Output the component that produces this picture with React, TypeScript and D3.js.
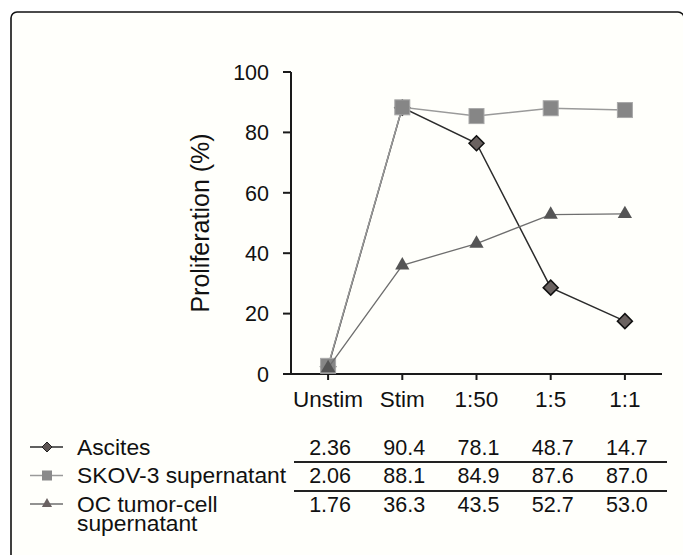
import React, { useEffect, useRef } from 'react'
import * as d3 from 'd3'

const categories = ['Unstim', 'Stim', '1:50', '1:5', '1:1']
const yTicks = [0, 20, 40, 60, 80, 100]

// plotted values
const ascitesPlot = [2.4, 88.2, 76.4, 28.6, 17.5]
const skovPlot = [2.7, 88.3, 85.4, 88.0, 87.4]
const ocPlot = [2.0, 36.0, 43.2, 52.8, 53.0]

// table values as printed
const seriesNames = ['Ascites', 'SKOV-3 supernatant', 'OC tumor-cell|supernatant']
const ascitesTable = ['2.36', '90.4', '78.1', '48.7', '14.7']
const skovTable = ['2.06', '88.1', '84.9', '87.6', '87.0']
const ocTable = ['1.76', '36.3', '43.5', '52.7', '53.0']

const W = 683
const H = 555
const FONT = '"Liberation Sans", Arial, Helvetica, sans-serif'

const diamondPath = (s) => `M0,${-s}L${s},0L0,${s}L${-s},0Z`

export default function App() {
  const svgRef = useRef(null)

  useEffect(() => {
    const svg = d3.select(svgRef.current)
    svg.selectAll('*').remove()

    const left = 291, right = 662, top = 72, bottom = 374
    const x = d3.scalePoint().domain(categories).range([left, right]).padding(0.5)
    const y = d3.scaleLinear().domain([0, 100]).range([bottom, top])

    // frame
    svg.append('rect')
      .attr('x', 11).attr('y', 12).attr('width', 673).attr('height', 580)
      .attr('rx', 6).attr('fill', '#fffffb').attr('stroke', '#111').attr('stroke-width', 1.6)

    // y axis
    const yAxis = svg.append('g')
    yAxis.append('line').attr('x1', left).attr('x2', left).attr('y1', top).attr('y2', bottom)
      .attr('stroke', '#1a1a1a').attr('stroke-width', 2)
    yTicks.forEach(t => {
      yAxis.append('line').attr('x1', left - 8).attr('x2', left).attr('y1', y(t)).attr('y2', y(t))
        .attr('stroke', '#1a1a1a').attr('stroke-width', 2)
      yAxis.append('text').attr('x', 269).attr('y', y(t)).attr('dy', '0.36em')
        .attr('text-anchor', 'end').attr('font-size', 21.5).attr('font-family', FONT).attr('fill', '#111')
        .text(t)
    })
    svg.append('text')
      .attr('transform', `translate(209,223) rotate(-90)`)
      .attr('text-anchor', 'middle').attr('font-size', 25).attr('font-family', FONT).attr('fill', '#111')
      .text('Proliferation (%)')

    // x axis
    const xAxis = svg.append('g')
    xAxis.append('line').attr('x1', left - 8).attr('x2', right).attr('y1', bottom).attr('y2', bottom)
      .attr('stroke', '#1a1a1a').attr('stroke-width', 2)
    categories.forEach(c => {
      xAxis.append('line').attr('x1', x(c)).attr('x2', x(c)).attr('y1', bottom).attr('y2', bottom + 6)
        .attr('stroke', '#1a1a1a').attr('stroke-width', 2)
      xAxis.append('text').attr('x', x(c)).attr('y', 407)
        .attr('text-anchor', 'middle').attr('font-size', 22.5).attr('font-family', FONT).attr('fill', '#111')
        .text(c)
    })

    const line = d3.line().x((d, i) => x(categories[i])).y(d => y(d))

    // Ascites (diamonds)
    svg.append('path').datum(ascitesPlot).attr('d', line)
      .attr('fill', 'none').attr('stroke', '#2b2b2b').attr('stroke-width', 1.5)
    svg.selectAll('.dia').data(ascitesPlot).enter().append('path')
      .attr('transform', (d, i) => `translate(${x(categories[i])},${y(d)})`)
      .attr('d', diamondPath(7.5))
      .attr('fill', '#6a6260').attr('stroke', '#111').attr('stroke-width', 1.5)

    // SKOV-3 (squares)
    svg.append('path').datum(skovPlot).attr('d', line)
      .attr('fill', 'none').attr('stroke', '#9a9a9a').attr('stroke-width', 1.5)
    svg.selectAll('.sq').data(skovPlot).enter().append('rect')
      .attr('x', (d, i) => x(categories[i]) - 7.5).attr('y', d => y(d) - 7.5)
      .attr('width', 15).attr('height', 15)
      .attr('fill', '#868686').attr('stroke', '#a8a8a8').attr('stroke-width', 1)

    // OC (triangles)
    const tri = d3.symbol().type(d3.symbolTriangle).size(88)
    svg.append('path').datum(ocPlot).attr('d', line)
      .attr('fill', 'none').attr('stroke', '#6e6e6e').attr('stroke-width', 1.3)
    svg.selectAll('.tri').data(ocPlot).enter().append('path')
      .attr('transform', (d, i) => `translate(${x(categories[i])},${y(d)})`)
      .attr('d', tri)
      .attr('fill', '#555555')

    // table
    const rows = [ascitesTable, skovTable, ocTable]
    const rowBase = [454.5, 483, 511.5]
    const lineColors = ['#2b2b2b', '#9a9a9a', '#6e6e6e']
    rows.forEach((r, ri) => {
      const ly = rowBase[ri] - 7.5
      svg.append('line').attr('x1', 30).attr('x2', 63).attr('y1', ly).attr('y2', ly)
        .attr('stroke', lineColors[ri]).attr('stroke-width', 1.5)
      if (ri === 0) {
        svg.append('path').attr('transform', `translate(47,${ly})`).attr('d', diamondPath(5))
          .attr('fill', '#5d5553').attr('stroke', '#222').attr('stroke-width', 1)
      } else if (ri === 1) {
        svg.append('rect').attr('x', 42).attr('y', ly - 5).attr('width', 10).attr('height', 10)
          .attr('fill', '#8a8a8a')
      } else {
        svg.append('path').attr('transform', `translate(47,${ly})`)
          .attr('d', d3.symbol().type(d3.symbolTriangle).size(45)).attr('fill', '#6a6262')
      }
      const nameLines = seriesNames[ri].split('|')
      nameLines.forEach((n, k) => {
        svg.append('text').attr('x', 77).attr('y', rowBase[ri] + k * 19.5)
          .attr('font-size', 22.8).attr('font-family', FONT).attr('fill', '#111')
          .text(n)
      })
      r.forEach((v, i) => {
        svg.append('text').attr('x', x(categories[i]) + 2).attr('y', rowBase[ri])
          .attr('text-anchor', 'middle').attr('font-size', 21.5).attr('font-family', FONT).attr('fill', '#111')
          .text(v)
      })
    })
    ;[462, 491].forEach(ly => {
      svg.append('line').attr('x1', 294).attr('x2', 667).attr('y1', ly).attr('y2', ly)
        .attr('stroke', '#222').attr('stroke-width', 2)
    })
  }, [])

  return (
    <svg ref={svgRef} width={W} height={H}
      style={{ position: 'absolute', left: 0, top: 0, display: 'block', background: '#fff' }} />
  )
}
